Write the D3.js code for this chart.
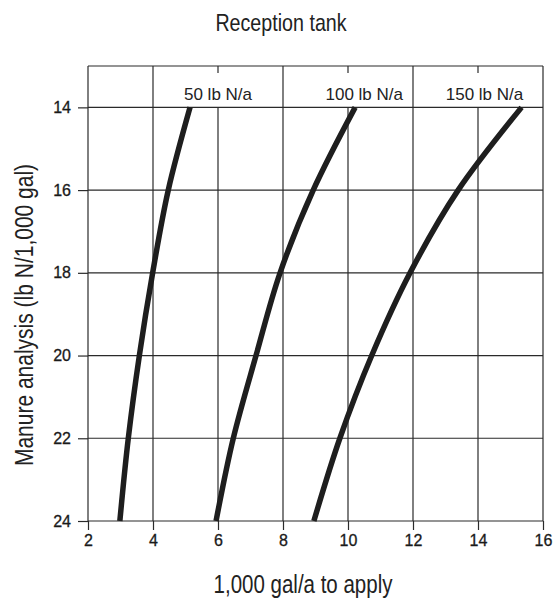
<!DOCTYPE html>
<html>
<head>
<meta charset="utf-8">
<script src="https://cdn.jsdelivr.net/npm/d3@7"></script>
<style>
  body { margin: 0; background: #fff; }
  .narrow { font-family: "Liberation Sans", Arial, sans-serif; }
  .tick text { font-family: "Liberation Sans", Arial, sans-serif; }
</style>
</head>
<body>
<div id="chart"></div>
<script>
//~~~~~~~~~~~~~~~~~~DATA
let analysis = [14, 16, 18, 20, 22, 24];
let rate50  = [5.14, 4.47, 3.99, 3.58, 3.24, 2.98];
let rate100 = [10.22, 8.93, 7.91, 7.17, 6.47, 5.94];
let rate150 = [15.34, 13.39, 11.91, 10.73, 9.75, 8.95];
let seriesNames = ['50 lb N/a', '100 lb N/a', '150 lb N/a'];
let labelX = [6, 10.5, 14.2];
let xTicks = [2, 4, 6, 8, 10, 12, 14, 16];
let yTicks = [14, 16, 18, 20, 22, 24];

//~~~~~~~~~~~~~~~~~~SIZES
let width = 555;
let height = 598;
let plotLeft = 88, plotRight = 543, plotTop = 66, plotBottom = 521;
let ink = '#2a2a2a';
//no condensed font installed, so squeeze the big labels horizontally
let squeeze = 0.82;

let svg = d3.select('#chart')
  .append('svg')
  .attr('width', width)
  .attr('height', height);

let x = d3.scaleLinear().domain([2, 16]).range([plotLeft, plotRight]);
let y = d3.scaleLinear().domain([13, 24]).range([plotTop, plotBottom]);

//~~~~~~~~~~~~~~~~~~GRID
let grid = svg.append('g')
  .attr('stroke', ink)
  .attr('stroke-width', 1.2);

//horizontal lines
grid.selectAll('.h')
  .data(yTicks)
  .enter()
  .append('line')
  .attr('x1', plotLeft)
  .attr('x2', plotRight)
  .attr('y1', d => y(d))
  .attr('y2', d => y(d));

//vertical lines, 6/10/14 stop at the label row
grid.selectAll('.v')
  .data(xTicks)
  .enter()
  .append('line')
  .attr('x1', d => x(d))
  .attr('x2', d => x(d))
  .attr('y1', d => (d % 4 === 2 && d !== 2) ? y(14) : plotTop)
  .attr('y2', plotBottom);

//small ticks hanging from the top edge
grid.selectAll('.tt')
  .data(xTicks.filter(d => d % 4 === 2 && d !== 2))
  .enter()
  .append('line')
  .attr('x1', d => x(d))
  .attr('x2', d => x(d))
  .attr('y1', plotTop)
  .attr('y2', plotTop + 7);

//top frame edge
grid.append('line')
  .attr('x1', plotLeft).attr('x2', plotRight)
  .attr('y1', plotTop).attr('y2', plotTop);

//~~~~~~~~~~~~~~~~~~AXES
let xAxis = d3.axisBottom(x)
  .tickValues(xTicks)
  .tickSize(9)
  .tickPadding(5);

let yAxis = d3.axisLeft(y)
  .tickValues(yTicks)
  .tickSize(10)
  .tickPadding(7);

let gx = svg.append('g')
  .attr('transform', 'translate(0,' + plotBottom + ')')
  .call(xAxis);

let gy = svg.append('g')
  .attr('transform', 'translate(' + plotLeft + ',0)')
  .call(yAxis);

[gx, gy].forEach(function(g) {
  g.select('.domain').remove();
  g.selectAll('.tick line').attr('stroke', ink).attr('stroke-width', 1.2);
  g.selectAll('.tick text')
    .attr('fill', '#1a1a1a')
    .attr('stroke', '#1a1a1a')
    .attr('stroke-width', 0.3)
    .style('font-size', '16px');
});

//~~~~~~~~~~~~~~~~~~CURVES
let line = d3.line()
  .x(d => x(d[0]))
  .y(d => y(d[1]))
  .curve(d3.curveMonotoneY);

let allSeries = [rate50, rate100, rate150];

svg.selectAll('.curve')
  .data(allSeries)
  .enter()
  .append('path')
  .attr('class', 'curve')
  .attr('d', d => line(d.map((v, i) => [v, analysis[i]])))
  .attr('fill', 'none')
  .attr('stroke', '#1e1e1e')
  .attr('stroke-width', 5.5);

//series labels above the 14 line
svg.selectAll('.slabel')
  .data(seriesNames)
  .enter()
  .append('text')
  .attr('x', (d, i) => x(labelX[i]))
  .attr('y', y(14) - 7)
  .attr('text-anchor', 'middle')
  .style('font-family', '"Liberation Sans", Arial, sans-serif')
  .style('font-size', '17px')
  .attr('fill', '#222')
  .text(d => d);

//~~~~~~~~~~~~~~~~~~TITLES
svg.append('text')
  .attr('class', 'narrow')
  .attr('transform', 'translate(281,31) scale(' + squeeze + ',1)')
  .attr('text-anchor', 'middle')
  .style('font-size', '24px')
  .attr('fill', '#222')
  .text('Reception tank');

svg.append('text')
  .attr('class', 'narrow')
  .attr('transform', 'translate(303,593) scale(' + squeeze + ',1)')
  .attr('text-anchor', 'middle')
  .style('font-size', '25px')
  .attr('fill', '#222')
  .text('1,000 gal/a to apply');

svg.append('text')
  .attr('class', 'narrow')
  .attr('transform', 'translate(33,315) rotate(-90) scale(0.84,1)')
  .attr('text-anchor', 'middle')
  .style('font-size', '25px')
  .attr('fill', '#222')
  .text('Manure analysis (lb N/1,000 gal)');
</script>
</body>
</html>
